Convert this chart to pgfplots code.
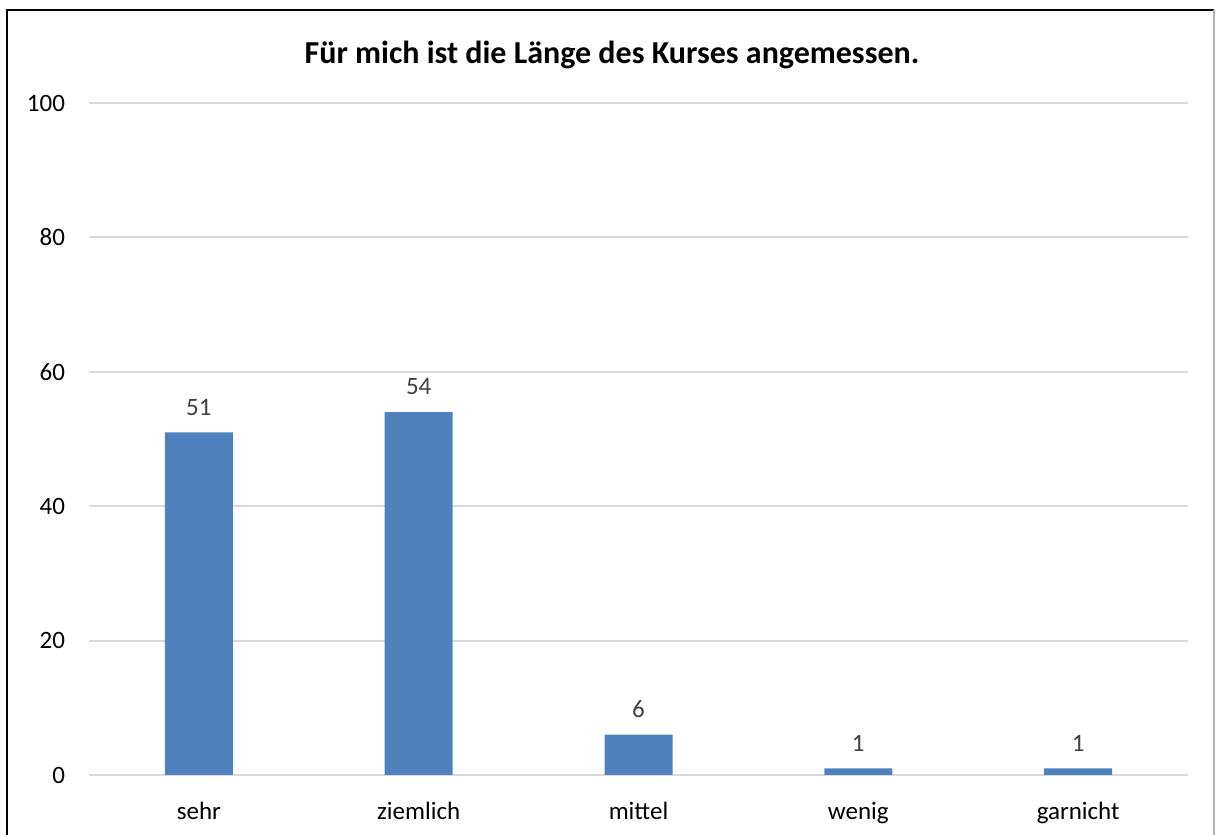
\documentclass[border=0pt]{standalone}
\usepackage{pgfplots}
\pgfplotsset{compat=1.18}
\usepackage{fontspec}
\setmainfont{Carlito}
\definecolor{barblue}{HTML}{4F81BD}
\definecolor{gridgray}{HTML}{D9D9D9}
\definecolor{labgray}{HTML}{404040}
\begin{document}
\begin{tikzpicture}[x=0.5pt,y=0.5pt]
% coordinates: (image x, 835 - image y)
\useasboundingbox (0,0) rectangle (1216,835);
\begin{axis}[
  at={(44.5pt,30pt)}, anchor=south west,
  scale only axis,
  width=549.5pt, height=336pt,
  xmin=-0.5, xmax=4.5, ymin=0, ymax=100,
  ytick={0,20,40,60,80,100},
  xtick=data,
  xticklabels={sehr,ziemlich,mittel,wenig,garnicht},
  ymajorgrids, grid style={gridgray, line width=1pt},
  axis line style={draw=none},
  axis x line*=bottom,
  x axis line style={draw=gridgray, line width=1pt},
  tick style={draw=none},
  ticklabel style={font=\fontsize{12.5}{14}\selectfont, text=black},
  /pgf/number format/assume math mode=true,
  yticklabel style={xshift=-8.5pt},
  xticklabel style={yshift=-6pt},
  ybar, bar width=34pt,
  nodes near coords,
  every node near coord/.append style={font=\fontsize{12.5}{14}\selectfont, text=labgray, yshift=5pt},
  clip=false,
]
\addplot[fill=barblue, draw=none] coordinates {(0,51) (1,54) (2,6) (3,1) (4,1)};
\end{axis}
\node[font=\bfseries\fontsize{16}{18}\selectfont] at (612,780) {Für mich ist die Länge des Kurses angemessen.};
\draw[black, line width=1pt] (7,-10) -- (7,825) -- (1214,825);
\draw[gray!60, line width=1pt] (1214,825) -- (1214,-10);
\end{tikzpicture}
\end{document}
